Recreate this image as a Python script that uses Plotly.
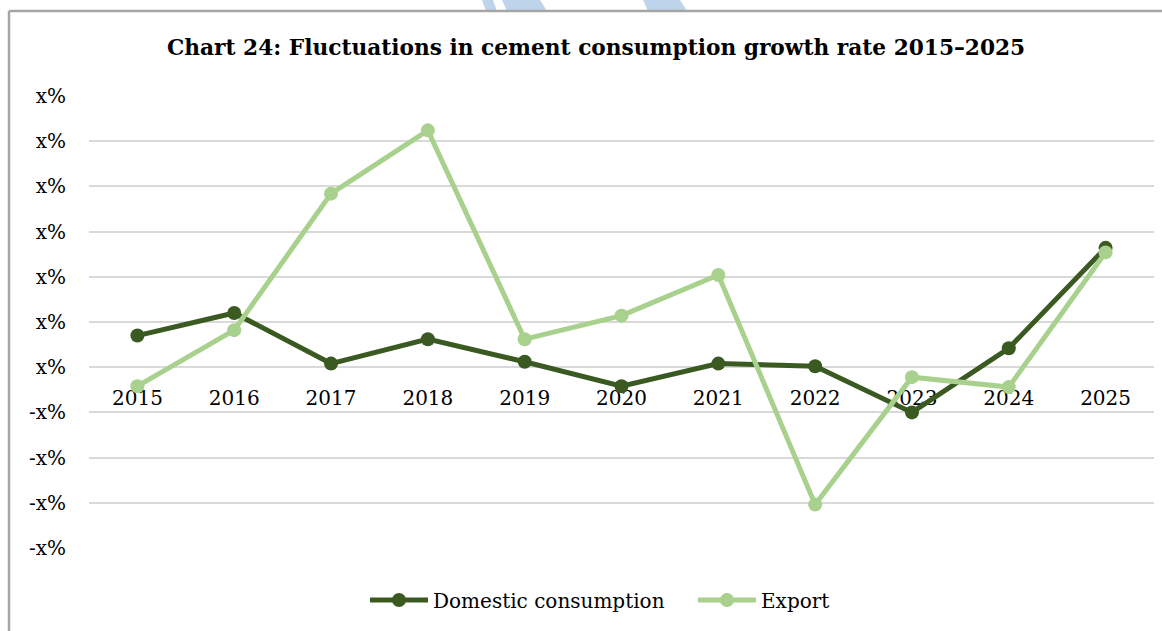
import plotly.graph_objects as go

years = ["2015", "2016", "2017", "2018", "2019", "2020", "2021", "2022", "2023", "2024", "2025"]
domestic = [3.5, 6.0, 0.4, 3.1, 0.6, -2.1, 0.4, 0.1, -5.0, 2.1, 13.2]
export = [-2.1, 4.1, 19.2, 26.2, 3.1, 5.7, 10.2, -15.2, -1.1, -2.2, 12.7]
ytick_vals = [-20, -15, -10, -5, 0, 5, 10, 15, 20, 25, 30]
ytick_text = ["-x%" if v < 0 else "x%" for v in ytick_vals]

W, H = 1162, 631
L, R, T, B = 89, 8, 96, 83


# pixel -> paper helpers for decorations
def px(x):
    return (x - L) / (W - L - R)


def py(y):
    return (H - B - y) / (H - T - B)


font_fam = "DejaVu Serif"
dark = "#3A5A22"
light = "#A8D18D"

fig = go.Figure()
fig.add_trace(go.Scatter(
    x=years, y=domestic, name="Domestic consumption", mode="lines+markers",
    line=dict(color=dark, width=5), marker=dict(size=14, color=dark),
))
fig.add_trace(go.Scatter(
    x=years, y=export, name="Export", mode="lines+markers",
    line=dict(color=light, width=5), marker=dict(size=14, color=light),
))

# watermark strips and frame
wm = "#BDD4EA"
for pts in [[(482, 0), (493, 0), (497, 11), (486, 11)],
            [(502, 0), (540, 0), (547, 11), (507, 11)],
            [(643, 0), (680, 0), (687, 11), (648, 11)]]:
    path = "M " + " L ".join(f"{px(a)},{py(b)}" for a, b in pts) + " Z"
    fig.add_shape(type="path", path=path, xref="paper", yref="paper",
                  fillcolor=wm, line=dict(width=0), layer="below")
fig.add_shape(type="line", xref="paper", yref="paper", x0=px(9), x1=px(W + 5),
              y0=py(11), y1=py(11), line=dict(color="#A6A6A6", width=2.5))
fig.add_shape(type="line", xref="paper", yref="paper", x0=px(9), x1=px(9),
              y0=py(11), y1=py(H + 5), line=dict(color="#A6A6A6", width=2.5))

fig.update_layout(
    width=W, height=H,
    margin=dict(l=L, r=R, t=T, b=B),
    paper_bgcolor="white", plot_bgcolor="white",
    font=dict(family=font_fam, color="#000000", size=20),
    title=dict(text="<b>Chart 24: Fluctuations in cement consumption growth rate 2015–2025</b>",
               x=0.513, xanchor="center", y=1 - 47 / H, yanchor="middle",
               font=dict(family=font_fam, size=21.7, color="#000000")),
    showlegend=True,
    legend=dict(orientation="h", x=px(365), xanchor="left", y=py(600), yanchor="middle",
                font=dict(family=font_fam, size=20), itemwidth=58,
                entrywidth=255, bgcolor="rgba(0,0,0,0)"),
    xaxis=dict(type="category", range=[-0.5, 10.5], anchor="free", position=0.4,
               showgrid=False, showline=False, ticks="", zeroline=False,
               tickfont=dict(family=font_fam, size=20), ticklabelstandoff=17,
               layer="below traces"),
    yaxis=dict(range=[-20, 30], tickvals=ytick_vals, ticktext=ytick_text,
               showgrid=True, gridcolor="#D9D9D9", gridwidth=2,
               zeroline=True, zerolinecolor="#D9D9D9", zerolinewidth=2,
               showline=False, ticks="", tickfont=dict(family=font_fam, size=20),
               ticklabelstandoff=22, layer="below traces"),
)

fig.write_html("out.html", config={"displayModeBar": False},
               post_script="document.body.style.margin='0px';")
